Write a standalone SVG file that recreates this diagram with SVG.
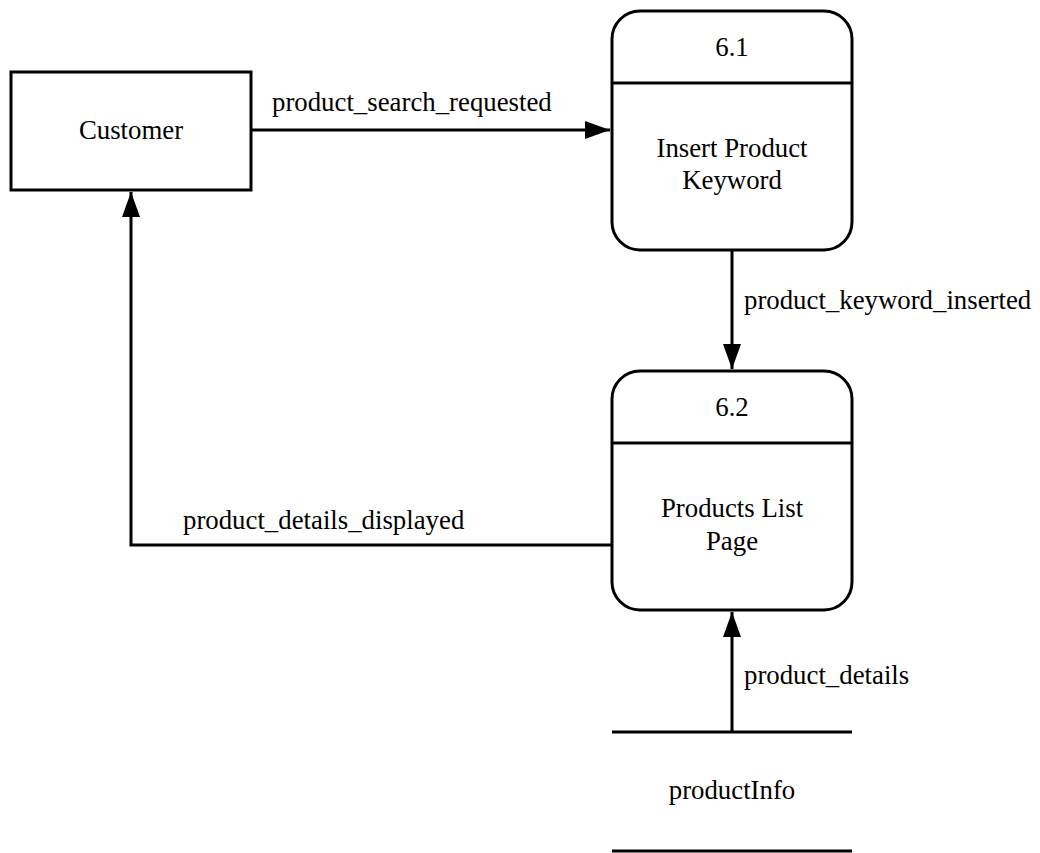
<svg xmlns="http://www.w3.org/2000/svg" width="1040" height="853" viewBox="0 0 1040 853">
<style>
.shape{fill:#fff;stroke:#000;stroke-width:3}
.ln{fill:none;stroke:#000;stroke-width:3}
.t{font-family:"Liberation Serif","Times New Roman",serif;font-size:26.8px;fill:#000}
.c{text-anchor:middle}
</style>
<defs>
<marker id="arr" markerUnits="userSpaceOnUse" markerWidth="26" markerHeight="20" refX="25" refY="9" orient="auto">
<path d="M0,0 L25,9 L0,18 Z" fill="#000"/>
</marker>
</defs>
<rect width="1040" height="853" fill="#fff"/>
<g id="customer">
<rect class="shape" x="11" y="72" width="240" height="118"/>
<text class="t c" x="131" y="139">Customer</text>
</g>
<g id="p61">
<rect class="shape" x="612" y="11" width="240" height="239" rx="28" ry="28"/>
<line class="ln" x1="612" y1="83" x2="852" y2="83"/>
<text class="t c" x="732" y="56">6.1</text>
<text class="t c" x="732" y="157">Insert Product</text>
<text class="t c" x="732" y="189">Keyword</text>
</g>
<g id="p62">
<rect class="shape" x="612" y="371" width="240" height="239" rx="28" ry="28"/>
<line class="ln" x1="612" y1="443" x2="852" y2="443"/>
<text class="t c" x="732" y="416">6.2</text>
<text class="t c" x="732" y="517">Products List</text>
<text class="t c" x="732" y="550">Page</text>
</g>
<g id="store">
<line class="ln" x1="612" y1="732" x2="852" y2="732"/>
<line class="ln" x1="612" y1="851" x2="852" y2="851"/>
<text class="t c" x="732" y="799">productInfo</text>
</g>
<g id="connectors">
<path class="ln" d="M251,130 L610,130" marker-end="url(#arr)"/>
<text class="t" x="272" y="111">product_search_requested</text>
<path class="ln" d="M732,250 L732,369" marker-end="url(#arr)"/>
<text class="t" x="744" y="309">product_keyword_inserted</text>
<path class="ln" d="M732,732 L732,612" marker-end="url(#arr)"/>
<text class="t" x="744" y="684">product_details</text>
<path class="ln" d="M612,545 L131,545 L131,192" marker-end="url(#arr)"/>
<text class="t" x="183" y="529">product_details_displayed</text>
</g>
</svg>
